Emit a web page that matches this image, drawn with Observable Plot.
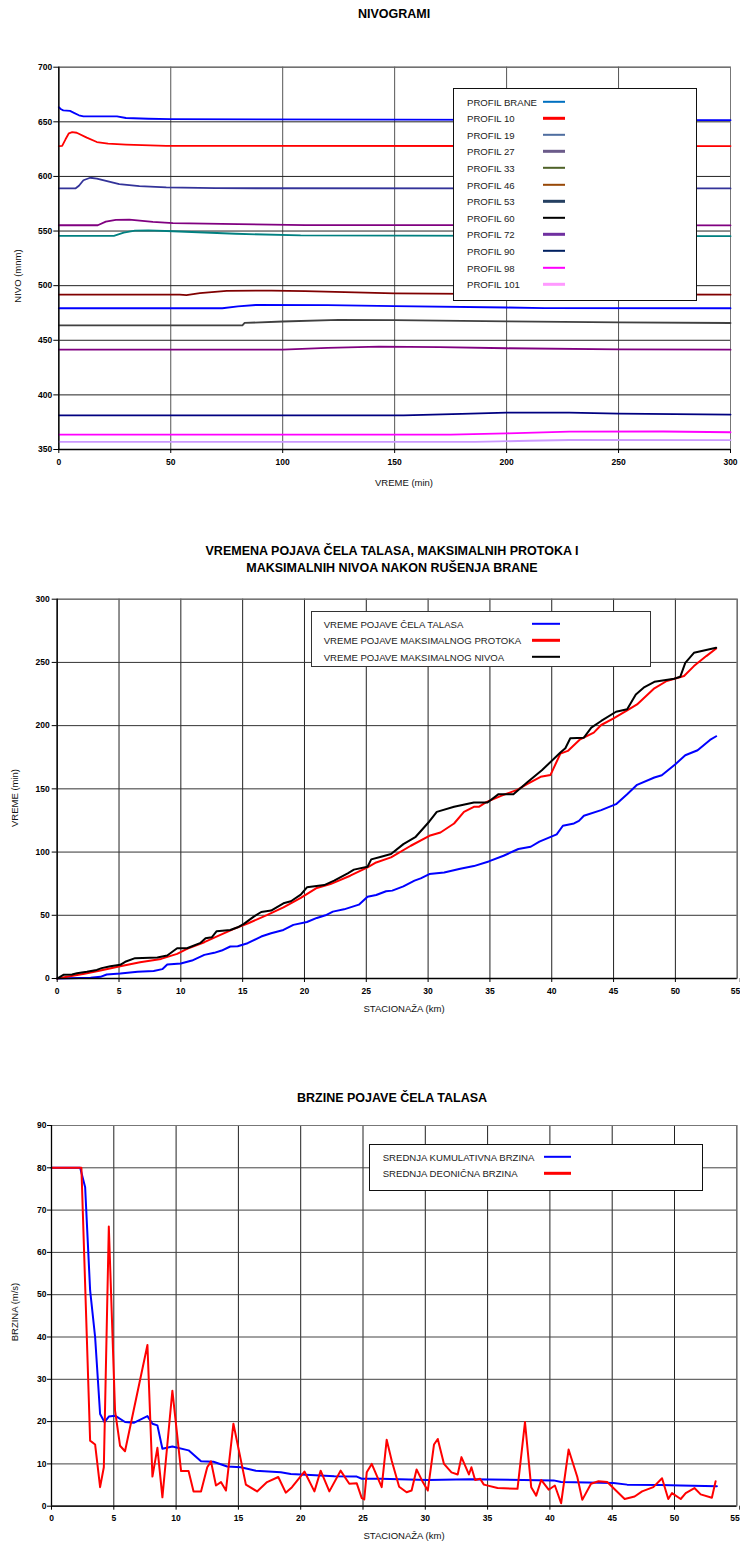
<!DOCTYPE html>
<html>
<head>
<meta charset="utf-8">
<script src="https://cdn.jsdelivr.net/npm/d3@7"></script>
<script src="https://cdn.jsdelivr.net/npm/@observablehq/plot@0.6"></script>
<style>
  body { margin: 0; background: #fff; }
  #root { position: relative; width: 740px; height: 1542px; font-family: Arial, "Liberation Sans", sans-serif; color: #000; overflow: hidden; }
  .abs { position: absolute; white-space: nowrap; }
  .title { font-weight: bold; font-size: 12.5px; transform: translate(-50%, -50%); text-align: center; line-height: 16.6px; }
  .axt { font-size: 9.5px; transform: translate(-50%, -50%); color: #111; }
  .axty { font-size: 9.5px; transform: translate(-50%, -50%) rotate(-90deg); color: #111; }
  .legend { position: absolute; background: #fff; box-sizing: border-box; }
  .lt { position: absolute; font-size: 9.6px; color: #222; transform: translateY(-50%); white-space: nowrap; }
  .sw { position: absolute; height: 2.4px; transform: translateY(-50%); }
  svg { position: absolute; left: 0; }
</style>
</head>
<body>
<div id="root"></div>
<script>
// ---------- CHART 1: NIVOGRAMI ----------
const PROFILES = ["PROFIL BRANE","PROFIL 10","PROFIL 19","PROFIL 27","PROFIL 33","PROFIL 46","PROFIL 53","PROFIL 60","PROFIL 72","PROFIL 90","PROFIL 98","PROFIL 101"];
const PROFILE_LINE_COLORS = ["#0000FF","#FF0000","#333399","#800080","#008080","#800000","#0000FF","#404040","#800080","#000080","#FF00FF","#CC99FF"];
const PROFILE_LEGEND_COLORS = ["#0070C0","#FF0000","#4F6EA0","#6B5B8A","#4F6228","#984807","#254061","#000000","#7030A0","#002060","#FF00FF","#FF99FF"];
const VREME_TICKS = [0,50,100,150,200,250,300];
const NIVO_TICKS = [350,400,450,500,550,600,650,700];

const P_BRANE = [[0,663.4],[1,661.5],[2,660.5],[5,660],[7,658],[9,656],[11,655],[26,655],[30,653.5],[40,652.8],[50,652.4],[150,652],[300,651.5]];
const P_10 = [[0,627.7],[1.5,628],[3,634],[4.5,639.5],[6,640.5],[8,640],[12.5,635.5],[17,631.5],[22,630],[30,629.2],[48,628],[300,627.8]];
const P_19 = [[0,589],[7.4,589],[9,591.5],[11,596.5],[14,598.8],[17,598],[22,595.5],[27,593],[36,591.2],[48,590],[70,589.2],[300,589]];
const P_27 = [[0,555.3],[17.4,555.3],[21,558.6],[25.5,560.3],[31.5,560.5],[42,558.4],[51,557.3],[80,556.3],[110,555.5],[300,555.2]];
const P_33 = [[0,545.6],[24.6,545.6],[29,548.6],[34,550.4],[40,550.7],[51,549.8],[79,547.5],[108,546],[300,545.3]];
const P_46 = [[0,491.8],[54,491.8],[57,491.4],[63,493.2],[75,495.3],[95,495.5],[110,495],[150,493],[200,492.2],[250,491.9],[300,491.7]];
const P_53 = [[0,479.3],[73,479.3],[80,481],[88,482.3],[120,482.2],[150,481.2],[200,480],[217,479.5],[300,479.3]];
const P_60 = [[0,463.7],[82,463.7],[83,465.9],[100,467.2],[125,468.6],[150,468.5],[200,467.3],[250,466.3],[300,465.8]];
const P_72 = [[0,441.5],[100,441.5],[120,443],[143,444.2],[170,443.7],[200,442.7],[250,441.6],[300,441.4]];
const P_90 = [[0,381.3],[154,381.3],[180,382.7],[200,383.7],[228,383.7],[250,382.8],[300,382]];
const P_98 = [[0,363.6],[175,363.6],[200,364.8],[228,366.4],[270,366.5],[300,365.8]];
const P_101 = [[0,356.9],[186,356.9],[210,358],[228,358.7],[300,358.5]];
const PROFILE_DATA = [P_BRANE,P_10,P_19,P_27,P_33,P_46,P_53,P_60,P_72,P_90,P_98,P_101];

// ---------- CHART 2: VREMENA POJAVA ----------
const VP_SERIES = ["VREME POJAVE ČELA TALASA","VREME POJAVE MAKSIMALNOG PROTOKA","VREME POJAVE MAKSIMALNOG NIVOA"];
const VP_COLORS = ["#0000FF","#FF0000","#000000"];
const KM_TICKS = [0,5,10,15,20,25,30,35,40,45,50,55];
const VP_Y_TICKS = [0,50,100,150,200,250,300];
const VP_CELO = [[0,0],[2.7,0.5],[3.5,1.3],[4,3.2],[5.1,3.9],[6.5,5.3],[7.8,6],[8.5,7.4],[8.9,11],[10,11.8],[10.9,14.2],[11.9,18.7],[12.7,20.3],[13.3,22.1],[14,25.3],[14.6,25.5],[15.4,27.9],[16.5,33.2],[17.3,35.8],[18.3,38.4],[19.1,42.4],[20.2,44.7],[21,47.9],[21.7,50],[22.3,52.9],[23.2,54.7],[24.4,58.4],[25.1,64.7],[25.8,66],[26.6,69],[27.1,69.5],[28,72.9],[28.9,77.4],[29.4,79.2],[30.1,82.6],[31.3,83.9],[32.6,86.8],[33.7,88.9],[34.9,92.6],[36.1,97.1],[37.3,102.4],[38.3,104.2],[39,108.2],[40.4,114],[40.9,120.8],[41.8,122.6],[42.2,124.7],[42.6,128.7],[44,133.2],[45.2,137.9],[46.1,145.8],[46.9,153.2],[48.3,159],[48.9,160.8],[49.5,165.5],[50,169.5],[50.8,176.6],[51.8,180.5],[52.8,188.7],[53.3,191.6]];
const VP_PROTOK = [[0,0],[0.8,1.3],[2.2,3.7],[3.5,6.3],[5,9.5],[6.7,12.9],[8.4,15.5],[9.7,19.5],[10.5,23.4],[11.9,28.7],[13.2,34.5],[14.3,39.2],[15.5,43.9],[17,50.3],[18.3,56.3],[19.7,63.7],[21,71.6],[22.1,74.7],[23.7,81.3],[25.1,87.9],[25.8,91.8],[27,95.8],[28.6,105],[30.1,112.9],[31,115.5],[32.1,122.6],[32.9,131.8],[33.7,135.8],[34.1,135.8],[34.7,139.5],[35.9,144.5],[37.2,149.2],[38,153.7],[39.1,159.5],[39.9,161],[40.7,177.9],[41.3,180],[42.3,189.2],[43.4,194.5],[44,200.5],[45,205.8],[46.1,212.1],[46.9,216.8],[48.3,229.5],[49.3,235.3],[50.7,239.2],[51.5,247.1],[52.5,255],[53.3,261]];
const VP_NIVO = [[0,0],[0.5,2.9],[1.2,3.2],[1.6,4.2],[2.4,5.3],[3.2,6.8],[3.6,8.2],[4.3,9.7],[5.1,10.8],[5.5,13.2],[6.3,16.1],[8.1,16.6],[8.9,18.2],[9.7,23.9],[10.5,23.9],[11.6,28.2],[12,31.8],[12.5,32.6],[12.9,37.4],[14,38.4],[14.6,40.5],[15.1,43.2],[15.9,48.9],[16.5,52.6],[17.3,53.7],[18.3,59.5],[18.9,61.1],[19.7,66.3],[20.2,72.1],[21.6,73.9],[22.4,77.4],[23.5,83.2],[24,86.1],[25.1,88.4],[25.4,94.2],[26.2,96.3],[27,98.4],[28,106.3],[29,112.1],[30.1,124.2],[30.7,131.8],[32.1,135.8],[33.7,139.2],[34.8,139.2],[35.7,145.8],[36.9,145.8],[38,155],[39.2,164.7],[40.7,178.7],[41.1,182.1],[41.5,190],[42.6,190.5],[43.2,198.4],[44,203.7],[45.2,211],[46.1,212.9],[46.8,224.7],[47.5,230.5],[48.3,234.7],[49.9,237.1],[50.4,238.7],[50.8,249.7],[51.5,257.6],[53.3,261.6]];

// ---------- CHART 3: BRZINE ----------
const BR_SERIES = ["SREDNJA KUMULATIVNA BRZINA","SREDNJA DEONIČNA BRZINA"];
const BR_COLORS = ["#0000FF","#FF0000"];
const BR_Y_TICKS = [0,10,20,30,40,50,60,70,80,90];
const BR_KUMUL = [[0,80],[2.3,80],[2.7,75.4],[3.1,51],[3.5,40],[3.9,21.8],[4.25,19.9],[4.6,21.2],[5.1,21.4],[5.9,19.9],[6.6,19.7],[7.7,21.3],[8.1,19.5],[8.5,19.1],[8.9,13.6],[9.7,14.1],[11,13.2],[12,10.6],[13,10.5],[14.1,9.4],[15.2,9.2],[16.4,8.4],[18.4,8],[19.2,7.6],[20.8,7.4],[22.7,7.1],[24.5,7],[24.9,6.5],[26.4,6.5],[30.2,6.2],[33.6,6.4],[40.3,6.1],[40.9,5.7],[45.1,5.5],[46.2,5.1],[48.9,5],[50.5,4.9],[53.4,4.7]];
const BR_DEON = [[0,80],[2.4,80],[3.1,15.5],[3.5,14.6],[3.9,4.5],[4.2,9.2],[4.6,66.1],[5.1,22.6],[5.5,14.3],[5.9,13],[7.7,38.1],[8.1,7],[8.5,13.8],[8.9,2.1],[9.7,27.3],[10.4,8.3],[11,8.3],[11.4,3.5],[12,3.5],[12.5,9.2],[12.8,10.6],[13.2,4.9],[13.6,5.7],[14,3.7],[14.6,19.5],[15.6,5.1],[16.5,3.5],[17.3,5.7],[18.2,6.9],[18.8,3.2],[19.3,4.5],[20.3,8.2],[21.1,3.5],[21.6,8.4],[22.3,3.5],[23.2,8.4],[23.9,5.3],[24.5,5.4],[24.9,1.9],[25.1,1.6],[25.3,8],[25.7,10],[26.5,4.5],[26.9,15.7],[27.3,10.8],[27.9,4.6],[28.5,3.3],[28.9,3.7],[29.3,8.7],[29.8,5.7],[30.2,3.7],[30.7,14.6],[31,15.9],[31.5,10],[32.1,8],[32.6,7.5],[32.9,11.6],[33.5,7.5],[33.7,9.2],[34,6.2],[34.4,6.5],[34.7,5.1],[35.8,4.3],[37.4,4.1],[38,19.9],[38.5,4.5],[38.9,2.5],[39.3,6.2],[39.9,3.9],[40.4,4.9],[40.9,0.7],[41.5,13.4],[42.2,6.9],[42.6,1.5],[43.3,5.3],[43.9,5.9],[44.6,5.7],[46,1.7],[46.8,2.3],[47.4,3.5],[48.3,4.5],[49,6.6],[49.5,1.7],[49.8,3.1],[50.5,1.7],[50.9,3.1],[51.6,4.3],[52.1,2.8],[53,2],[53.3,5.9]];

const root = document.getElementById("root");
const FONT = 'Arial, "Liberation Sans", sans-serif';

function addDiv(cls, text, x, y, extra = {}) {
  const d = document.createElement("div");
  d.className = "abs " + cls;
  d.innerHTML = text;
  d.style.left = x + "px";
  d.style.top = y + "px";
  Object.assign(d.style, extra);
  root.appendChild(d);
  return d;
}

function makeChart(o) {
  const lastX = o.xTicks[o.xTicks.length - 1];
  const edgeTick = o.edgeLabel ? [lastX] : [];
  const innerTicks = o.edgeLabel ? o.xTicks.slice(0, -1) : o.xTicks;
  const marks = [
    Plot.gridX(o.xTicks, {stroke: o.vGrid, strokeOpacity: 1, strokeWidth: 1}),
    Plot.gridY(o.yTicks, {stroke: o.hGrid, strokeOpacity: 1, strokeWidth: 1}),
    Plot.frame({stroke: "#777", strokeWidth: 1}),
    ...o.lines.map(l => Plot.line(l.data, {x: d => d[0], y: d => d[1], stroke: l.color, strokeWidth: l.w || 2})),
    Plot.ruleX([o.xDomain[0]], {stroke: "#000", strokeWidth: 1.3}),
    Plot.ruleY([o.yDomain[0]], {stroke: "#000", strokeWidth: 1.3}),
    Plot.axisX({ticks: innerTicks, tickSize: 4, tickPadding: o.xPad, fontWeight: "bold", label: null, tickFormat: d => String(d)}),
    Plot.axisY({ticks: o.yTicks, tickSize: o.yTick, tickPadding: o.yPad, fontWeight: "bold", label: null, tickFormat: d => String(d)})
  ];
  if (o.edgeLabel) {
    marks.push(Plot.axisX({ticks: edgeTick, tickSize: 4, tickPadding: o.xPad, fontWeight: "bold", label: null, textAnchor: "end", dx: 3, tickFormat: d => String(d)}));
  }
  const svg = Plot.plot({
    width: 740, height: o.height,
    marginLeft: o.mL, marginRight: o.mR, marginTop: o.mT, marginBottom: o.mB,
    x: {domain: o.xDomain, nice: false},
    y: {domain: o.yDomain, nice: false},
    style: {fontFamily: FONT, fontSize: "8.5px", color: "#000", background: "transparent", overflow: "visible"},
    marks
  });
  svg.style.top = o.top + "px";
  root.appendChild(svg);
}

function makeLegend(box, items, textX, swX0, swX1, rowsY, border) {
  const L = document.createElement("div");
  L.className = "legend";
  Object.assign(L.style, {left: box[0] + "px", top: box[1] + "px", width: (box[2] - box[0]) + "px", height: (box[3] - box[1]) + "px", border: border});
  root.appendChild(L);
  items.forEach((it, i) => {
    const t = document.createElement("div");
    t.className = "lt";
    t.textContent = it.name;
    t.style.left = (textX - box[0]) + "px";
    t.style.top = (rowsY[i] - box[1]) + "px";
    L.appendChild(t);
    const s = document.createElement("div");
    s.className = "sw";
    s.style.left = (swX0 - box[0]) + "px";
    s.style.width = (swX1 - swX0) + "px";
    s.style.top = (rowsY[i] - box[1]) + "px";
    s.style.background = it.color;
    L.appendChild(s);
  });
}

// Chart 1
addDiv("title", "NIVOGRAMI", 394, 14);
makeChart({
  top: 40, height: 460, mL: 58.3, mR: 10, mT: 26.7, mB: 51,
  xDomain: [0, 300], yDomain: [350, 700], xTicks: VREME_TICKS, yTicks: NIVO_TICKS,
  vGrid: "#555", hGrid: "#222", xPad: 5.5, yTick: 5, yPad: 1.6, edgeLabel: false,
  lines: PROFILE_DATA.map((d, i) => ({data: d, color: PROFILE_LINE_COLORS[i], w: 1.8}))
});
addDiv("axt", "VREME (min)", 404, 481.7);
addDiv("axty", "NIVO (mnm)", 17, 276);
makeLegend([453.3, 88.3, 697.3, 300.7],
  PROFILES.map((p, i) => ({name: p, color: PROFILE_LEGEND_COLORS[i]})),
  466, 541.7, 564,
  PROFILES.map((p, i) => 100.7 + i * 16.6), "1px solid #111");

// Chart 2
addDiv("title", "VREMENA POJAVA ČELA TALASA, MAKSIMALNIH PROTOKA I<br>MAKSIMALNIH NIVOA NAKON RUŠENJA BRANE", 392, 560);
makeChart({
  top: 580, height: 450, mL: 56.7, mR: 3.3, mT: 18.7, mB: 52,
  xDomain: [0, 55], yDomain: [0, 300], xTicks: KM_TICKS, yTicks: VP_Y_TICKS,
  vGrid: "#222", hGrid: "#333", xPad: 5.5, yTick: 5, yPad: 2.4, edgeLabel: true,
  lines: [VP_CELO, VP_PROTOK, VP_NIVO].map((d, i) => ({data: d, color: VP_COLORS[i], w: 2}))
});
addDiv("axt", "STACIONAŽA (km)", 404, 1008.3);
addDiv("axty", "VREME (min)", 13.5, 798);
makeLegend([311, 611, 650.7, 666.7],
  VP_SERIES.map((s, i) => ({name: s, color: VP_COLORS[i]})),
  322.7, 531, 558.7, [622.7, 639.3, 655.7], "1.5px solid #333");

// Chart 3
addDiv("title", "BRZINE POJAVE ČELA TALASA", 392, 1098);
makeChart({
  top: 1110, height: 432, mL: 51, mR: 3.7, mT: 15, mB: 36.3,
  xDomain: [0, 55], yDomain: [0, 90], xTicks: KM_TICKS, yTicks: BR_Y_TICKS,
  vGrid: "#222", hGrid: "#444", xPad: 5, yTick: 4, yPad: 1, edgeLabel: true,
  lines: [BR_KUMUL, BR_DEON].map((d, i) => ({data: d, color: BR_COLORS[i], w: 2}))
});
addDiv("axt", "STACIONAŽA (km)", 404, 1535);
addDiv("axty", "BRZINA (m/s)", 13.5, 1312);
makeLegend([369.3, 1144, 702.7, 1191],
  BR_SERIES.map((s, i) => ({name: s, color: BR_COLORS[i]})),
  381.7, 542.7, 570, [1156, 1172.3], "1.5px solid #111");
</script>
</body>
</html>
